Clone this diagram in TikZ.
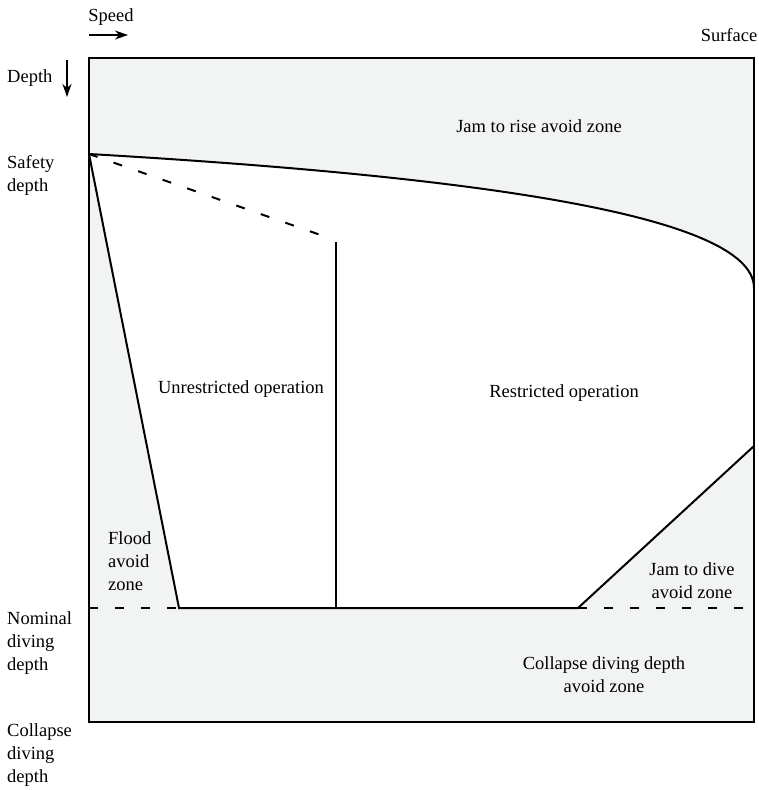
\documentclass[tikz,border=0pt]{standalone}
\usepackage{fontspec}
\setmainfont{Liberation Serif}
\usetikzlibrary{arrows.meta}
\definecolor{zonegray}{HTML}{F2F3F3}
\begin{document}
\begin{tikzpicture}[x=1pt,y=-1pt,
  edge/.style={line width=2pt},
  dashline/.style={line width=2pt, dash pattern=on 9pt off 17pt},
  axisarrow/.style={line width=1.3pt, -{Stealth[length=13pt,width=9pt,inset=4pt]}},
  lbl/.style={font=\fontsize{18.5}{23}\selectfont, inner sep=0pt},
]
\useasboundingbox (0,0) rectangle (758,790);

% frame corners and boundary points
\coordinate (TL) at (89,58);
\coordinate (BR) at (754,722);
\coordinate (S)  at (89,154);   % safety depth
\coordinate (C)  at (754,288);  % curve meets right edge
\coordinate (J)  at (754,446);  % jam-to-dive line top
\coordinate (K)  at (578,608);  % jam-to-dive line foot
\coordinate (F)  at (179,608);  % flood line foot
\coordinate (N)  at (89,608);   % nominal depth on left edge
\coordinate (NR) at (754,608);  % nominal depth on right edge
\coordinate (D)  at (332,239);  % end of dashed limit
\coordinate (V)  at (336,242);  % top of divider
\coordinate (VB) at (336,608);  % foot of divider

% zones
\fill[zonegray] (TL) rectangle (BR);
\fill[white] (S) .. controls (450,175) and (754,212) .. (C) -- (J) -- (K) -- (F) -- cycle;

% boundaries
\draw[edge] (S) .. controls (450,175) and (754,212) .. (C);
\draw[edge] (S) -- (F) -- (K) -- (J);
\draw[edge] (V) -- (VB);
\draw[dashline] (S) -- (D);
\draw[dashline] (N) -- (F);
\draw[dashline] (K) -- (NR);
\draw[edge] (TL) rectangle (BR);

% axes
\coordinate (sp0) at (89,35);
\coordinate (sp1) at (128,35);
\draw[axisarrow] (sp0) -- (sp1);
\coordinate (dp0) at (67,60);
\coordinate (dp1) at (67,97);
\draw[axisarrow] (dp0) -- (dp1);

% labels (multi-line nodes are placed by the baseline of their last line)
\node[lbl, anchor=base] (speed) at (111,21) {Speed};
\node[lbl, anchor=base] (surface) at (729,41) {Surface};
\node[lbl, anchor=base west] (depth) at (7,82) {Depth};
\node[lbl, anchor=base west, align=left] (safety) at (7,191) {Safety\\depth};
\node[lbl, anchor=base west, align=left] (nominal) at (7,670) {Nominal\\diving\\depth};
\node[lbl, anchor=base west, align=left] (collapse) at (7,782) {Collapse\\diving\\depth};

\node[lbl, anchor=base] (rise) at (539,132) {Jam to rise avoid zone};
\node[lbl, anchor=base] (unres) at (241,393) {Unrestricted operation};
\node[lbl, anchor=base] (res) at (564,397) {Restricted operation};
\node[lbl, anchor=base west, align=left] (flood) at (108,590) {Flood\\avoid\\zone};
\node[lbl, anchor=base, align=center] (dive) at (692,598) {Jam to dive\\avoid zone};
\node[lbl, anchor=base, align=center] (cdd) at (604,692) {Collapse diving depth\\avoid zone};
\end{tikzpicture}
\end{document}
